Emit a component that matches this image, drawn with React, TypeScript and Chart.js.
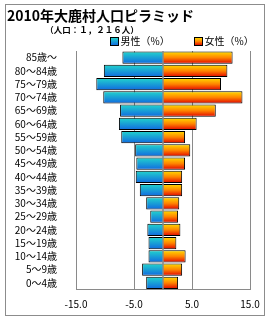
import React, { useEffect, useRef } from "react";
import { Chart, registerables } from "chart.js";

Chart.register(...registerables);

const titleText = "2010年大鹿村人口ピラミッド";
const subtitleText = "（人口：１，２１６人）";
const maleLabel = "男性（%）";
const femaleLabel = "女性（%）";

const ageGroups = [
  "85歳〜", "80〜84歳", "75〜79歳", "70〜74歳", "65〜69歳", "60〜64歳",
  "55〜59歳", "50〜54歳", "45〜49歳", "40〜44歳", "35〜39歳", "30〜34歳",
  "25〜29歳", "20〜24歳", "15〜19歳", "10〜14歳", "5〜9歳", "0〜4歳",
];
const malePct = [7.0, 10.2, 11.5, 10.3, 7.4, 7.6, 7.2, 4.8, 4.6, 4.7, 4.0, 2.9, 2.2, 2.7, 2.5, 2.5, 3.6, 2.9];
const femalePct = [12.0, 11.1, 10.0, 13.7, 9.1, 5.8, 3.8, 4.7, 3.8, 3.3, 3.3, 2.8, 2.6, 3.0, 2.3, 3.9, 3.3, 2.6];
const xTicks = [-15, -5, 5, 15];

const FONT = "'Noto Sans CJK JP', 'Noto Sans', sans-serif";
const BAR_PCT = 0.94;

function maleStops(g: CanvasGradient) {
  g.addColorStop(0, "#22d6cc");
  g.addColorStop(1, "#1068e0");
  return g;
}
function femaleStops(g: CanvasGradient) {
  g.addColorStop(0, "#ffe000");
  g.addColorStop(0.5, "#ff8400");
  g.addColorStop(1, "#e00000");
  return g;
}

function barGradient(kind: "m" | "f") {
  return (c: any) => {
    const chart = c.chart;
    const fallback = kind === "m" ? "#1aa0d8" : "#ff6000";
    if (!chart.chartArea || c.dataIndex === undefined) return fallback;
    const y = chart.scales.y;
    if (!y) return fallback;
    const center = y.getPixelForValue(c.dataIndex);
    const h = (y.height / ageGroups.length) * BAR_PCT;
    const g = chart.ctx.createLinearGradient(0, center - h / 2, 0, center + h / 2);
    return kind === "m" ? maleStops(g) : femaleStops(g);
  };
}

const decor = {
  id: "decor",
  beforeDraw(chart: any) {
    const ctx = chart.ctx;
    ctx.save();
    ctx.fillStyle = "#ffffff";
    ctx.fillRect(0, 0, chart.width, chart.height);
    ctx.restore();
  },
  afterDatasetsDraw(chart: any) {
    const ctx = chart.ctx;
    const x = chart.scales.x.getPixelForValue(0);
    const { top, bottom } = chart.chartArea;
    ctx.save();
    ctx.strokeStyle = "#8a8a8a";
    ctx.lineWidth = 1.5;
    ctx.beginPath();
    ctx.moveTo(x, top);
    ctx.lineTo(x, bottom);
    ctx.stroke();
    ctx.restore();
  },
  afterDraw(chart: any) {
    const ctx = chart.ctx;
    ctx.save();
    ctx.strokeStyle = "#8c8c8c";
    ctx.lineWidth = 1;
    ctx.strokeRect(5.5, 4.5, 259, 311);
    ctx.fillStyle = "#000";
    ctx.textBaseline = "middle";
    ctx.textAlign = "left";
    ctx.font = `bold 14px ${FONT}`;
    ctx.fillText(titleText, 7, 16);
    ctx.font = `bold 8.5px ${FONT}`;
    ctx.textAlign = "center";
    ctx.fillText(subtitleText, 92, 30);
    ctx.font = `10px ${FONT}`;
    ctx.textAlign = "left";
    const items = [
      { x: 110, label: maleLabel, kind: "m" },
      { x: 194, label: femaleLabel, kind: "f" },
    ];
    items.forEach((it) => {
      const g = ctx.createLinearGradient(0, 37.5, 0, 45.5);
      ctx.fillStyle = it.kind === "m" ? maleStops(g) : femaleStops(g);
      ctx.fillRect(it.x + 0.5, 37.5, 8, 8);
      ctx.strokeStyle = "#000";
      ctx.strokeRect(it.x + 0.5, 37.5, 8, 8);
      ctx.fillStyle = "#000";
      ctx.fillText(it.label, it.x + 10.5, 41.5);
    });
    ctx.restore();
  },
};

export default function App() {
  const ref = useRef<HTMLCanvasElement | null>(null);
  useEffect(() => {
    if (!ref.current) return;
    const chart = new Chart(ref.current, {
      type: "bar",
      data: {
        labels: ageGroups,
        datasets: [
          {
            label: maleLabel,
            data: malePct.map((v) => -v),
            backgroundColor: barGradient("m") as any,
            borderColor: "#000",
            borderWidth: 1,
            barPercentage: BAR_PCT,
            categoryPercentage: 1,
          },
          {
            label: femaleLabel,
            data: femalePct,
            backgroundColor: barGradient("f") as any,
            borderColor: "#000",
            borderWidth: 1,
            barPercentage: BAR_PCT,
            categoryPercentage: 1,
          },
        ],
      },
      options: {
        indexAxis: "y",
        animation: false,
        responsive: false,
        maintainAspectRatio: false,
        layout: { padding: { top: 51, left: 5, right: 20, bottom: 0 } },
        plugins: {
          legend: { display: false },
          tooltip: { enabled: false },
          title: { display: false },
        },
        scales: {
          x: {
            stacked: true,
            min: -15,
            max: 15,
            afterBuildTicks: (scale: any) => {
              scale.ticks = xTicks.map((v) => ({ value: v }));
            },
            afterFit: (scale: any) => {
              scale.height = 30.5;
            },
            ticks: {
              color: "#000",
              font: { family: FONT, size: 10 },
              padding: 9,
              maxRotation: 0,
              autoSkip: false,
              callback: (v: any) => Number(v).toFixed(1),
            },
            grid: { color: "#8a8a8a", lineWidth: 1, drawTicks: false },
            border: { color: "#8a8a8a", width: 1 },
          },
          y: {
            stacked: true,
            afterFit: (scale: any) => {
              scale.width = 71;
            },
            ticks: {
              color: "#000",
              font: { family: FONT, size: 10 },
              padding: 11,
              autoSkip: false,
            },
            grid: { display: false },
            border: { color: "#8a8a8a", width: 1 },
          },
        },
      },
      plugins: [decor],
    });
    return () => chart.destroy();
  }, []);
  return (
    <div style={{ position: "fixed", left: 0, top: 0, width: 270, height: 320 }}>
      <canvas ref={ref} width={270} height={320} />
    </div>
  );
}
